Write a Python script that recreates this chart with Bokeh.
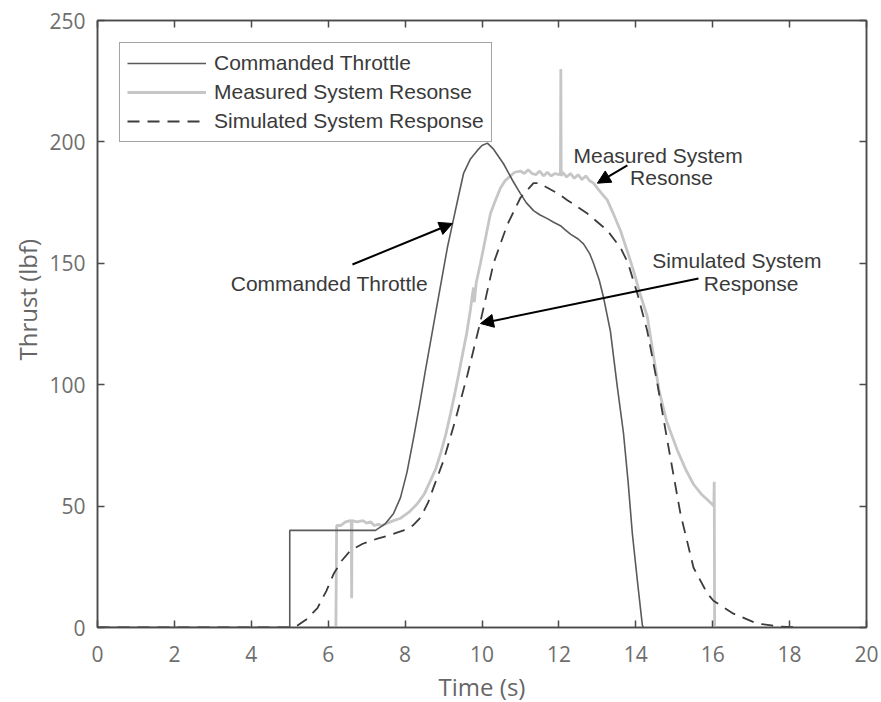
from bokeh.plotting import figure
from bokeh.models import (Range1d, LinearAxis, Legend, LegendItem, Arrow, NormalHead,
                          Label, Title, FixedTicker, CustomLabelingPolicy)
from bokeh.embed import file_html
from bokeh.resources import INLINE

# ---------------- data ----------------
x_ticks = [0, 2, 4, 6, 8, 10, 12, 14, 16, 18, 20]
y_ticks = [0, 50, 100, 150, 200, 250]

cmd_t = [0, 5, 5, 7.23, 7.49, 7.7, 7.88, 8.05, 8.22, 8.38, 8.53, 8.8, 9.1, 9.23, 9.38, 9.52,
         9.7, 9.88, 10.0, 10.14, 10.3, 10.56, 10.8, 11.0, 11.15, 11.34, 11.5, 11.7, 11.85,
         12.04, 12.15, 12.3, 12.5, 12.64, 12.8, 12.9, 13.05, 13.16, 13.34, 13.52, 13.68, 13.8,
         13.91, 14.05, 14.17, 14.2]
cmd_y = [0, 0, 40, 40, 42.8, 47, 53.5, 64, 78, 92, 106, 130, 156.5, 166, 177, 187,
         193, 196.5, 198.5, 199.5, 197, 191, 184, 178.7, 175, 171.7, 170, 168.4, 167,
         165.5, 164, 162, 160, 158, 154, 150, 143, 136, 122, 99, 80, 60,
         38.7, 18, 1, 0]

meas_t = [0, 6.2, 6.22, 6.32, 6.45, 6.58, 6.6, 6.61, 6.62, 6.75, 6.9, 7.0, 7.1, 7.2, 7.3,
          7.4, 7.54, 7.7, 7.88, 8.1, 8.32, 8.5, 8.66, 8.8, 8.92, 9.05, 9.18, 9.3, 9.39, 9.5,
          9.6, 9.7, 9.75, 9.78, 9.8, 9.85, 9.96, 10.1, 10.22, 10.35, 10.48, 10.6, 10.74,
          10.85, 11.0, 11.1, 11.2, 11.3, 11.4, 11.5, 11.6, 11.7, 11.8, 11.9, 12.0, 12.04,
          12.05, 12.06, 12.1, 12.2, 12.3, 12.4, 12.5, 12.6, 12.7, 12.8, 12.9, 13.0, 13.1,
          13.26, 13.4, 13.6, 13.8, 13.94, 14.1, 14.3, 14.45, 14.6, 14.8, 15.08, 15.3, 15.5,
          15.7, 15.94, 16.03, 16.04, 16.05, 20]
meas_y = [0, 0, 42, 42, 43.5, 44, 44, 12, 44, 43.5, 44, 43, 43.5, 42, 42.5,
          42, 43, 44, 45, 47.5, 51, 55, 60.5, 65.5, 71.5, 79, 88, 97, 104, 113,
          121, 131, 137, 140, 134, 142, 150, 161, 170.5, 176, 181, 184, 186,
          187.5, 188, 187, 188.5, 187, 186.5, 188, 186, 187.5, 186, 187, 186.5, 187,
          230, 186, 187.5, 185.5, 187, 185, 186.5, 184.5, 186, 184, 183, 181, 179,
          176, 171, 163.5, 154, 147, 138, 128, 113, 98, 85, 73, 65, 59,
          55, 51.5, 50, 60, 0, 0]

sim_t = [0, 5.1, 5.2, 5.45, 5.72, 5.95, 6.14, 6.35, 6.58, 6.9, 7.28, 7.6, 7.96, 8.2, 8.4,
         8.6, 8.74, 9.0, 9.3, 9.62, 9.96, 10.3, 10.66, 11.0, 11.34, 11.5, 11.6, 12.0, 12.22,
         12.74, 13.26, 13.6, 13.8, 14.05, 14.3, 14.56, 14.82, 15.16, 15.5, 15.86, 16.02,
         16.54, 17.16, 17.76, 18.2]
sim_y = [0, 0, 0.8, 3.5, 8, 15, 22, 27.5, 31.7, 34.5, 36.6, 38, 40, 42, 45.3,
         51.5, 57.7, 68.8, 85, 104, 126, 150, 166, 177, 183, 183, 182, 178.5, 176,
         170.5, 163.5, 156.5, 150, 137, 122, 100.5, 77, 47, 24.7, 14, 11,
         5.7, 1.6, 0.4, 0]

series_names = ["Commanded Throttle", "Measured System Resonse", "Simulated System Response"]

# annotation texts and their positions (data units)
ann_texts = ["Commanded Throttle", "Measured System", "Resonse", "Simulated System", "Response"]
ann_x = [6.03, 14.58, 14.93, 16.63, 17.0]
ann_y = [141.7, 194.4, 185.3, 151.2, 141.7]

# arrows: tail -> head (data units)
arr_x0 = [6.63, 13.78, 15.63]
arr_y0 = [149.5, 190.3, 143.7]
arr_x1 = [9.23, 13.0, 9.96]
arr_y1 = [166.4, 183.0, 125.2]

# ---------------- styling ----------------
FRAME = "#4a4a4a"
TICK_FONT = "Open Sans"
TXT_FONT = "Liberation Sans"

p = figure(frame_width=769, frame_height=607,
           x_range=Range1d(0, 20), y_range=Range1d(0, 250),
           output_backend="svg", toolbar_location=None, title=None,
           min_border_left=97, min_border_right=14, min_border_top=20, min_border_bottom=73)
p.background_fill_color = "white"
p.border_fill_color = "white"
p.outline_line_color = FRAME
p.outline_line_width = 1.5
p.xgrid.visible = False
p.ygrid.visible = False

r_meas = p.line(meas_t, meas_y, line_color="#c6c6c6", line_width=2.8)
r_cmd = p.line(cmd_t, cmd_y, line_color="#5a5a5a", line_width=1.6)
r_sim = p.line(sim_t, sim_y, line_color="#3c3c3c", line_width=1.8, line_dash="12 8")

hide_labels = CustomLabelingPolicy(code="""
for (const i of Array.from(indices)) indices.unset(i)
return indices
""")


def style_axis(ax, ticks, show_labels=True):
    ax.ticker = FixedTicker(ticks=ticks)
    ax.axis_line_color = FRAME
    ax.axis_line_width = 1.5
    ax.major_tick_line_color = FRAME
    ax.major_tick_line_width = 1.5
    ax.major_tick_in = 7
    ax.major_tick_out = 0
    ax.minor_tick_in = 0
    ax.minor_tick_out = 0
    ax.major_label_text_font = TICK_FONT
    ax.major_label_text_font_size = "21px"
    ax.major_label_text_color = "#6e6e6e"
    if not show_labels:
        ax.major_label_policy = hide_labels
        ax.major_label_standoff = 0


style_axis(p.xaxis[0], x_ticks)
style_axis(p.yaxis[0], y_ticks)
p.xaxis.major_label_standoff = 18
p.yaxis.major_label_standoff = 12

p.xaxis.axis_label = "Time (s)"
p.xaxis.axis_label_text_font = TICK_FONT
p.xaxis.axis_label_text_font_size = "24px"
p.xaxis.axis_label_text_font_style = "normal"
p.xaxis.axis_label_text_color = "#666666"
p.xaxis.axis_label_standoff = 5

top_ax = LinearAxis()
right_ax = LinearAxis()
style_axis(top_ax, x_ticks, show_labels=False)
style_axis(right_ax, y_ticks, show_labels=False)
p.add_layout(top_ax, "above")
p.add_layout(right_ax, "right")

ylab = Title(text="Thrust (lbf)", align="left", offset=267,
             text_font=TICK_FONT, text_font_size="24px", text_font_style="normal",
             text_color="#666666", standoff=6)
p.add_layout(ylab, "left")

legend = Legend(items=[LegendItem(label=series_names[0], renderers=[r_cmd]),
                       LegendItem(label=series_names[1], renderers=[r_meas]),
                       LegendItem(label=series_names[2], renderers=[r_sim])],
                location="top_left", margin=22, padding=7, spacing=3,
                glyph_width=79, glyph_height=26, label_height=26, label_standoff=8,
                label_text_font=TXT_FONT, label_text_font_size="21px",
                label_text_color="#3a3a3a",
                border_line_color=FRAME, border_line_width=1.5,
                background_fill_color="white", background_fill_alpha=1.0)
p.add_layout(legend)

for t, x, y in zip(ann_texts, ann_x, ann_y):
    p.add_layout(Label(x=x, y=y, text=t, text_align="center", text_baseline="middle",
                       text_font=TXT_FONT, text_font_size="21px", text_color="#3a3a3a"))

for x0, y0, x1, y1 in zip(arr_x0, arr_y0, arr_x1, arr_y1):
    p.add_layout(Arrow(end=NormalHead(size=13, fill_color="black", line_color="black"),
                       x_start=x0, y_start=y0, x_end=x1, y_end=y1,
                       line_color="black", line_width=2))

open("out.html", "w").write(file_html(p, INLINE))
